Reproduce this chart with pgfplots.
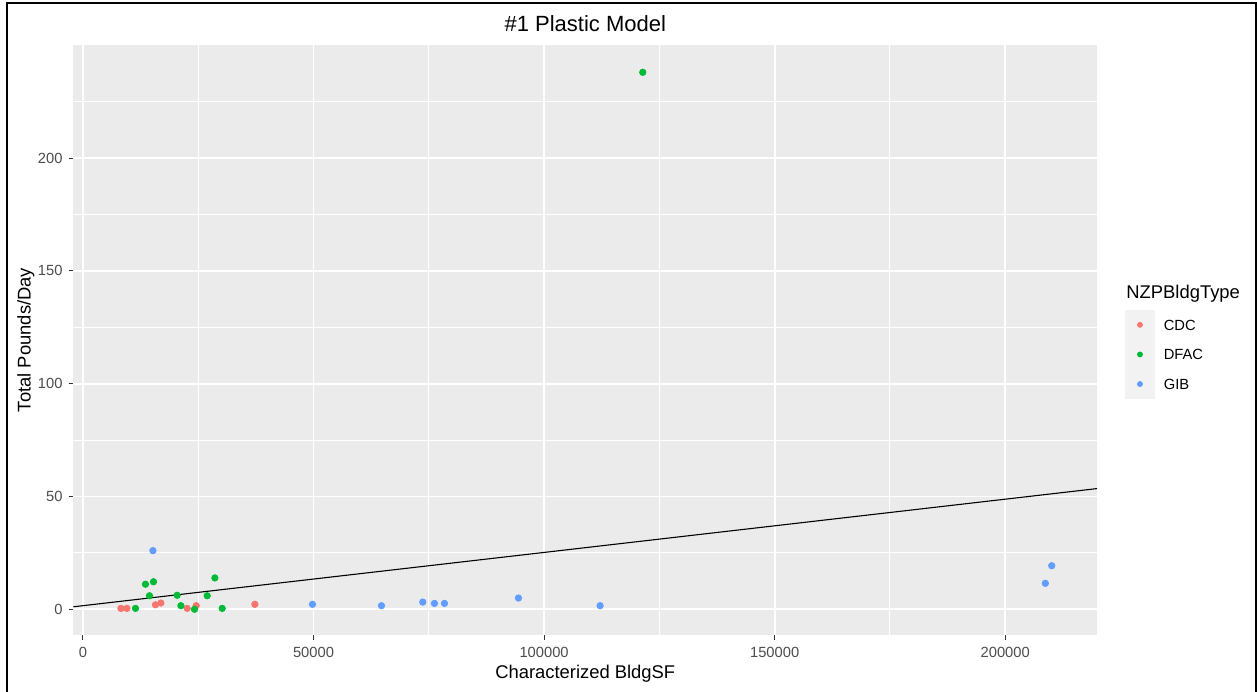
\documentclass[border=0pt]{standalone}
\usepackage{pgfplots}
\pgfplotsset{compat=1.18}
\usepackage{fontspec}
\setmainfont{Liberation Sans}
\definecolor{cdc}{HTML}{F8766D}
\definecolor{dfac}{HTML}{00BA38}
\definecolor{gib}{HTML}{619CFF}
\definecolor{panelbg}{HTML}{EBEBEB}
\definecolor{keybg}{HTML}{F2F2F2}
\definecolor{grey30}{HTML}{4D4D4D}
\definecolor{grey20}{HTML}{333333}
\begin{document}
\begin{tikzpicture}
\useasboundingbox (0,0) rectangle (628.5pt,-345.5pt);
\fill[white] (0,0) rectangle (628.5pt,-345.5pt);
\draw[black, line width=1.2pt] (3.5pt,-346pt) -- (3.5pt,-1.5pt) -- (628pt,-1.5pt) -- (628pt,-346pt);
\begin{axis}[
  at={(36.75pt,-317.5pt)}, anchor=south west,
  scale only axis, width=511.75pt, height=295pt,
  xmin=-2040, xmax=219900, ymin=-11.4, ymax=250.1,
  axis background/.style={fill=panelbg},
  axis line style={draw=none},
  xtick={0,50000,100000,150000,200000},
  xticklabels={0,50000,100000,150000,200000},
  scaled x ticks=false,
  ytick={0,50,100,150,200},
  minor xtick={25000,75000,125000,175000},
  minor ytick={25,75,125,175,225},
  grid=both,
  major grid style={white, line width=0.9pt},
  minor grid style={white, line width=0.45pt},
  tick align=outside, xtick pos=bottom, ytick pos=left,
  major tick length=2.4pt, minor tick length=0pt,
  tick style={draw=grey20, line width=0.5pt},
  /pgf/number format/assume math mode=true,
  ticklabel style={font=\fontsize{7.36}{9}\selectfont, text=grey30, inner sep=0pt},
  xticklabel style={anchor=base, yshift=-8.75pt},
  yticklabel style={anchor=east, xshift=-2.9pt},
  xlabel={Characterized BldgSF},
  ylabel={Total Pounds/Day},
  label style={font=\fontsize{9.2}{11}\selectfont, inner sep=0pt},
  xlabel style={at={(axis description cs:0.5,-0.0734)}, anchor=base},
  ylabel style={at={(axis description cs:-0.042,0.5)}, anchor=base, rotate=0},
  title={\#1 Plastic Model},
  every axis title shift=0pt,
  title style={font=\fontsize{11}{13}\selectfont, at={(axis description cs:0.5,1.0229)}, anchor=base, inner sep=0pt},
  legend style={draw=none, fill=none, at={(axis description cs:1.0274,0.5508)}, anchor=north west,
    inner sep=0pt, outer sep=0pt, row sep=0pt, column sep=4.5pt,
    font=\fontsize{7.36}{9}\selectfont,
    nodes={inner sep=0pt, text height=5.3pt, text depth=0pt}},
  legend cell align=left,
  legend image code/.code={%
    \fill[keybg] (-7.25pt,-7.2pt) rectangle (7.25pt,7.2pt);
    \fill[#1, mark size=1.25pt] (0pt,0pt) circle (1.25pt);},
]
\addplot[only marks, mark=*, mark size=1.6pt, color=cdc, mark options={draw=none, fill=cdc}] coordinates {
(8240,0.4) (9540,0.4) (15740,2.0) (16910,2.8) (22610,0.4) (24560,1.6) (37290,2.2)};
\addlegendentry{CDC}
\addplot[only marks, mark=*, mark size=1.6pt, color=dfac, mark options={draw=none, fill=dfac}] coordinates {
(11400,0.4) (13570,11.1) (15310,12.2) (14440,6.0) (20440,6.2) (21250,1.6) (24200,0.0) (26950,6.0) (28620,13.9) (30200,0.4) (121400,238.0)};
\addlegendentry{DFAC}
\addplot[only marks, mark=*, mark size=1.6pt, color=gib, mark options={draw=none, fill=gib}] coordinates {
(15180,26.0) (49780,2.2) (64740,1.6) (73700,3.2) (76230,2.6) (78400,2.6) (94440,5.0) (112150,1.6) (208700,11.5) (210080,19.3)};
\addlegendentry{GIB}
\addplot[black, line width=0.55pt, forget plot] coordinates {(-2040,1.12) (219900,53.5)};
\end{axis}
\node[anchor=west, inner sep=0pt, font=\fontsize{9.2}{11}\selectfont] at (563pt,-147pt) {NZPBldgType};
\end{tikzpicture}
\end{document}
